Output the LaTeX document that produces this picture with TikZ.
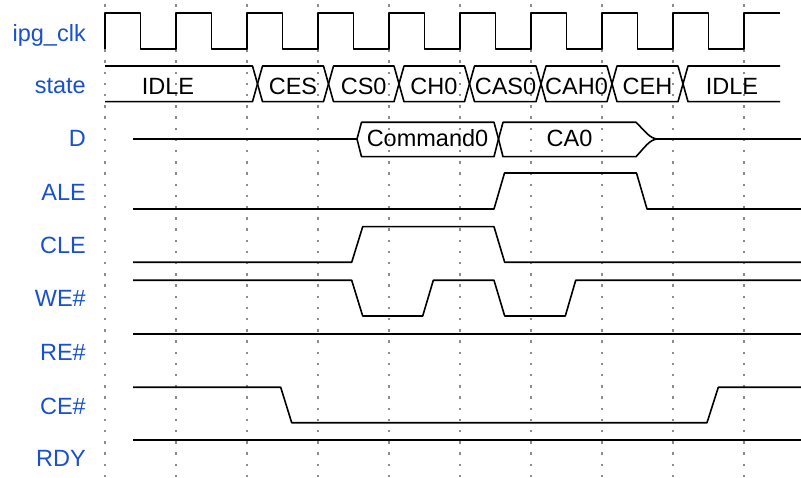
\documentclass[tikz,border=0pt]{standalone}
\usepackage{fontspec}
\setmainfont{Liberation Sans}
\definecolor{lbl}{RGB}{25,80,205}
\begin{document}
\begin{tikzpicture}[x=1pt,y=-1pt,
  sig/.style={line width=1.6pt, line join=round},
  gridline/.style={black!45, line width=1.1pt, dash pattern=on 2.4pt off 8.8pt},
  lab/.style={anchor=base east, text=lbl, font=\fontsize{23.5}{28}\selectfont, inner sep=0pt},
  bt/.style={anchor=base, font=\fontsize{23.5}{28}\selectfont, inner sep=0pt}]
\useasboundingbox (0,0) rectangle (801,478);
% grid
\foreach \k in {0,...,9} \draw[gridline] (105+71*\k,4.5) -- (105+71*\k,478);
% labels
\node[lab] (lclk) at (86,41.7) {ipg\_clk};
\node[lab] (lstate) at (86,94) {state};
\node[lab] (lD) at (86,146.7) {D};
\node[lab] (lALE) at (86,201) {ALE};
\node[lab] (lCLE) at (86,254) {CLE};
\node[lab] (lWE) at (86,306.7) {WE\#};
\node[lab] (lRE) at (86,361) {RE\#};
\node[lab] (lCE) at (86,414) {CE\#};
\node[lab] (lRDY) at (86,466.7) {RDY};
% clock
\draw[sig] (105,49.3) \foreach \k in {0,...,8} { -- (105+71*\k,13.3) -- (140.5+71*\k,13.3) -- (140.5+71*\k,49.3) -- (176+71*\k,49.3) } -- (744,13.3) -- (780,13.3);
% state bus
\draw[sig] (105,66) -- (252.5,66) -- (257.5,83.85) -- (252.5,101.7) -- (105,101.7);
\foreach \a/\b in {257.5/328.5, 328.5/399, 399/469.5, 469.5/541, 541/612, 612/683}
  \draw[sig] (\a,83.85) -- (\a+5,66) -- (\b-5,66) -- (\b,83.85) -- (\b-5,101.7) -- (\a+5,101.7) -- cycle;
\draw[sig] (780,66) -- (688,66) -- (683,83.85) -- (688,101.7) -- (780,101.7);
\node[bt] (s1) at (168,94.5) {IDLE};
\node[bt] (s2) at (293,94.5) {CES};
\node[bt] (s3) at (363.7,94.5) {CS0};
\node[bt] (s4) at (434,94.5) {CH0};
\node[bt] (s5) at (505.5,94.5) {CAS0};
\node[bt] (s6) at (576.5,94.5) {CAH0};
\node[bt] (s7) at (647.5,94.5) {CEH};
\node[bt] (s8) at (732,94.5) {IDLE};
% D bus
\draw[sig] (133,139) -- (357,139);
\draw[sig] (357,139) -- (361.5,122.3) -- (494,122.3) -- (498.5,139) -- (494,156.7) -- (361.5,156.7) -- cycle;
\draw[sig] (498.5,139) -- (503,122.3) -- (636,122.3) .. controls (645,131) and (650,139) .. (658,139) -- (801,139);
\draw[sig] (498.5,139) -- (503,156.7) -- (636,156.7) .. controls (645,147) and (650,139) .. (658,139);
\node[bt] (dc) at (427.5,146.3) {Command0};
\node[bt] (da) at (569.5,146.3) {CA0};
% ALE
\draw[sig] (133,209) -- (494,209) -- (504.5,173) -- (636.5,173) -- (647,209) -- (801,209);
% CLE
\draw[sig] (133,262.3) -- (351.7,262.3) -- (362.7,226.7) -- (494,226.7) -- (504.7,262.3) -- (801,262.3);
% WE#
\draw[sig] (133,280.3) -- (351.7,280.3) -- (362.7,316) -- (422.7,316) -- (433.3,280.3) -- (494,280.3) -- (504.7,316) -- (565.3,316) -- (575.7,280.3) -- (801,280.3);
% RE#
\draw[sig] (133,334) -- (801,334);
% CE#
\draw[sig] (133,387.3) -- (280.7,387.3) -- (291.7,422.7) -- (707,422.7) -- (718.3,387.3) -- (801,387.3);
% RDY
\draw[sig] (133,440) -- (801,440);
\end{tikzpicture}
\end{document}
